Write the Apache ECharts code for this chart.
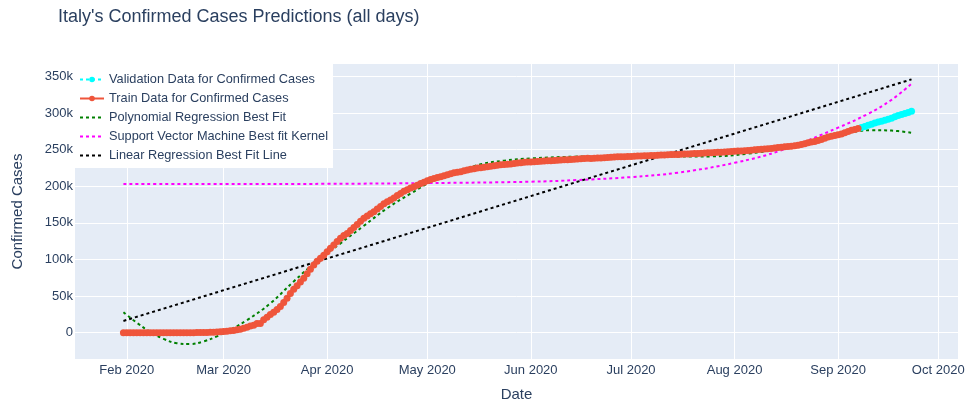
<!DOCTYPE html>
<html>
<head>
<meta charset="utf-8">
<script src="https://cdn.jsdelivr.net/npm/echarts@6/dist/echarts.min.js"></script>
<style>
  html, body { margin: 0; padding: 0; background: #ffffff; }
  #chart { width: 967px; height: 403px; }
</style>
</head>
<body>
<div id="chart"></div>
<script>
// Italy cumulative confirmed cases, one value per day
const trainStart = '2020-01-31';
const trainValues = [
  2, 2, 2, 2, 2, 2, 2, 3, 3, 3, 3, 3, 3, 3, 3, 3, 3, 3, 3, 3, 3,
  20, 62, 155, 229, 322, 453, 655, 888, 1128,
  1694, 2036, 2502, 3089, 3858, 4636, 5883, 7375, 9172, 10149, 12462, 12462, 17660, 21157, 24747,
  27980, 31506, 35713, 41035, 47021, 53578, 59138, 63927, 69176, 74386, 80589, 86498, 92472, 97689, 101739, 105792,
  110574, 115242, 119827, 124632, 128948, 132547, 135586, 139422, 143626, 147577, 152271, 156363, 159516, 162488, 165155,
  168941, 172434, 175925, 178972, 181228, 183957, 187327, 189973, 192994, 195351, 197675, 199414, 201505, 203591, 205463,
  207428, 209328, 210717, 211938, 213013, 214457, 215858, 217185, 218268, 219070, 219814, 221216, 222104, 223096, 223885,
  224760, 225435, 225886, 226699, 227364, 228006, 228658, 229327, 229858, 230158, 230555, 231139, 231732, 232248, 232664, 233019,
  233197, 233515, 233836, 234013, 234531, 234801, 234998, 235278, 235561, 235763, 236142, 236305, 236651, 236989, 237290,
  237500, 237828, 238159, 238011, 238275, 238499, 238720, 238833, 239410, 239706, 239961, 240136, 240310, 240436, 240578,
  240760, 240961, 241184, 241419, 241611, 241819, 241956, 242149, 242363, 242639, 242827, 243061, 243230, 243344, 243506,
  243736, 243967, 244216, 244434, 244624, 244752, 245032, 245338, 245590, 245864, 246118, 246286, 246488, 246776, 247158, 247537,
  247832, 248070, 248229, 248419, 248803, 249204, 249756, 250103, 250566, 250825, 251237, 251713, 252235, 252809, 253438,
  253915, 254235, 254636, 255278, 256118, 257065, 258136, 259345, 260298, 261174, 262540, 263949, 265409, 267273, 268218, 269214,
  270189, 271515, 272912, 274644, 276338, 277634, 278784
];

const validStart = '2020-09-08';
const validValues = [
  280153, 281583, 283180, 284796, 286297, 287753, 288761, 289990,
  291442, 293025, 294932, 296569, 298156, 299506, 300897, 302537
];

// Fitted model curves
const polyDates = [
  '2020-01-31', '2020-02-04', '2020-02-08', '2020-02-12', '2020-02-16', '2020-02-20', '2020-02-24', '2020-02-28',
  '2020-03-03', '2020-03-08', '2020-03-15', '2020-03-22', '2020-03-29', '2020-04-05', '2020-04-12', '2020-04-19',
  '2020-04-26', '2020-05-03', '2020-05-10', '2020-05-17', '2020-05-24', '2020-06-01', '2020-06-15', '2020-07-01',
  '2020-07-15', '2020-07-25', '2020-08-05', '2020-08-15', '2020-08-25', '2020-09-03', '2020-09-11', '2020-09-17', '2020-09-23'
];
const polyValues = [
  28000, 13500, 1000, -8500, -14500, -15500, -12000, -5000,
  4000, 17000, 40000, 70000, 98000, 122000, 146000, 170000,
  190000, 208000, 219500, 230000, 235000, 238000, 240500, 241500,
  240500, 240800, 244500, 251500, 262000, 272000, 276500, 276000, 273000
];

const svmDates = [
  '2020-01-31', '2020-03-01', '2020-04-01', '2020-05-01', '2020-06-01', '2020-06-15', '2020-07-01',
  '2020-07-15', '2020-08-01', '2020-08-15', '2020-09-01', '2020-09-10', '2020-09-17', '2020-09-23'
];
const svmValues = [
  203000, 203000, 203300, 204300, 206200, 208500, 212500,
  218500, 232000, 249000, 280000, 299000, 318000, 340000
];

const linearDates = ['2020-01-31', '2020-09-23'];
const linearValues = [16000, 346000];

// Axis ticks
const monthTicks = [
  '2020-02-01', '2020-03-01', '2020-04-01', '2020-05-01', '2020-06-01',
  '2020-07-01', '2020-08-01', '2020-09-01', '2020-10-01'
];
const yTicks = [0, 50000, 100000, 150000, 200000, 250000, 300000, 350000];

const DAY = 86400000;
const ts = s => Date.parse(s + 'T00:00:00Z');
const daily = (start, vals) => vals.map((v, i) => [ts(start) + i * DAY, v]);
const paired = (dates, vals) => dates.map((d, i) => [ts(d), vals[i]]);

const MONTHS = ['Jan', 'Feb', 'Mar', 'Apr', 'May', 'Jun', 'Jul', 'Aug', 'Sep', 'Oct', 'Nov', 'Dec'];
const FONT = '"Liberation Sans", Arial, sans-serif';
const INK = '#2a3f5f';

const chart = echarts.init(document.getElementById('chart'), null, { renderer: 'canvas' });

const dotted = (color) => ({ color: color, width: 2, type: [3, 3] });
// legend entries for fitted curves show only the dotted stroke
const lineOnly = name => ({ name: name, itemStyle: { opacity: 0 } });

chart.setOption({
  animation: false,
  backgroundColor: '#ffffff',
  textStyle: { fontFamily: FONT, color: INK },
  title: {
    text: "Italy's Confirmed Cases Predictions (all days)",
    left: 58,
    top: 8,
    padding: 0,
    textStyle: { fontFamily: FONT, fontSize: 18, fontWeight: 'normal', color: INK }
  },
  legend: {
    orient: 'vertical',
    left: 75,
    top: 64,
    backgroundColor: '#ffffff',
    padding: [9, 5, 6, 4],
    itemWidth: 24,
    itemHeight: 7,
    itemGap: 6,
    textStyle: { fontFamily: FONT, fontSize: 12.75, color: INK },
    data: [
      'Validation Data for Confirmed Cases',
      'Train Data for Confirmed Cases',
      lineOnly('Polynomial Regression Best Fit'),
      lineOnly('Support Vector Machine Best fit Kernel'),
      lineOnly('Linear Regression Best Fit Line')
    ]
  },
  grid: {
    left: 75, right: 9, top: 64, bottom: 44,
    outerBoundsMode: 'none',
    containLabel: false,
    backgroundColor: '#E5ECF6', show: true, borderWidth: 0
  },
  xAxis: {
    type: 'value',
    min: Date.UTC(2020, 0, 16, 12),
    max: Date.UTC(2020, 9, 6, 22),
    name: 'Date',
    nameLocation: 'middle',
    nameGap: 36,
    nameTextStyle: { fontFamily: FONT, fontSize: 15, color: INK, verticalAlign: 'middle' },
    axisLine: { show: false },
    axisTick: { show: false, customValues: monthTicks.map(ts) },
    axisLabel: {
      customValues: monthTicks.map(ts),
      margin: 5,
      fontFamily: FONT,
      fontSize: 13,
      color: INK,
      formatter: v => { const d = new Date(v); return MONTHS[d.getUTCMonth()] + ' ' + d.getUTCFullYear(); }
    },
    splitLine: { show: true, lineStyle: { color: '#ffffff', width: 1 } }
  },
  yAxis: {
    type: 'value',
    min: -36000,
    max: 367000,
    name: 'Confirmed Cases',
    nameLocation: 'middle',
    nameGap: 57,
    nameTextStyle: { fontFamily: FONT, fontSize: 15, color: INK, verticalAlign: 'middle' },
    axisLine: { show: false },
    axisTick: { show: false, customValues: yTicks },
    axisLabel: {
      customValues: yTicks,
      margin: 2,
      fontFamily: FONT,
      fontSize: 13,
      color: INK,
      formatter: v => v === 0 ? '0' : (v / 1000) + 'k'
    },
    splitLine: { show: true, lineStyle: { color: '#ffffff', width: 1 } }
  },
  series: [
    {
      name: 'Validation Data for Confirmed Cases',
      type: 'line',
      data: daily(validStart, validValues),
      symbol: 'circle',
      symbolSize: 7,
      showSymbol: true,
      showAllSymbol: true,
      itemStyle: { color: '#00FFFF' },
      lineStyle: { color: '#00FFFF', width: 2, type: [3, 3] }
    },
    {
      name: 'Train Data for Confirmed Cases',
      type: 'line',
      data: daily(trainStart, trainValues),
      symbol: 'circle',
      symbolSize: 7,
      showSymbol: true,
      showAllSymbol: true,
      itemStyle: { color: '#EF553B' },
      lineStyle: { color: '#EF553B', width: 2 }
    },
    {
      name: 'Polynomial Regression Best Fit',
      type: 'line',
      data: paired(polyDates, polyValues),
      symbol: 'none',
      smooth: 0.4,
      itemStyle: { color: 'green' },
      lineStyle: dotted('green')
    },
    {
      name: 'Support Vector Machine Best fit Kernel',
      type: 'line',
      data: paired(svmDates, svmValues),
      symbol: 'none',
      smooth: 0.4,
      itemStyle: { color: '#FF00FF' },
      lineStyle: dotted('#FF00FF')
    },
    {
      name: 'Linear Regression Best Fit Line',
      type: 'line',
      data: paired(linearDates, linearValues),
      symbol: 'none',
      itemStyle: { color: '#000000' },
      lineStyle: dotted('#000000')
    }
  ]
});
</script>
</body>
</html>
